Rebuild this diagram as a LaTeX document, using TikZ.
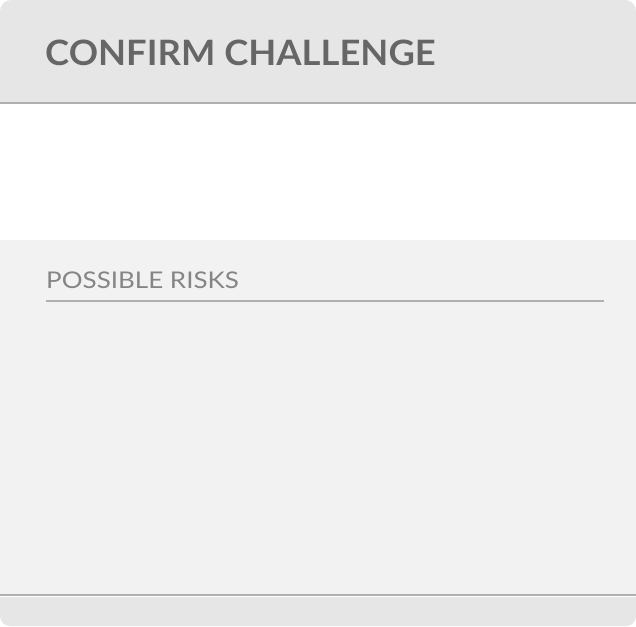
\documentclass[tikz,border=0pt]{standalone}
\usepackage{fontspec}
\setmainfont{Lato}
\definecolor{hdrgray}{HTML}{E6E6E6}
\definecolor{secgray}{HTML}{F2F2F2}
\definecolor{rulegray}{HTML}{B0B0B0}
\definecolor{titlegray}{HTML}{666666}
\definecolor{subgray}{HTML}{858585}
\tikzset{
  titletext/.style={anchor=base west, inner sep=0pt, font=\fontsize{35}{40}\selectfont\bfseries},
  subtext/.style={anchor=base west, inner sep=0pt, text=subgray, font=\fontsize{23}{27}\selectfont},
  rulerline/.style={draw=rulegray, line width=2pt}
}
\begin{document}
\begin{tikzpicture}[x=1pt,y=-1pt]
\useasboundingbox (0,0) rectangle (636,626);
\fill[white] (0,0) rectangle (636,626);
% header
\fill[hdrgray, rounded corners=11pt] (0,0) rectangle (636,40);
\fill[hdrgray] (0,20) rectangle (636,102);
\draw[rulerline] (0,102.5) -- (636,102.5);
% section
\fill[secgray] (0,240) rectangle (636,594);
\draw[rulerline] (0,595) -- (636,595);
% footer
\fill[hdrgray, rounded corners=10pt] (0,597) rectangle (636,626);
\fill[hdrgray] (0,597) rectangle (636,610);
% title
\node[titletext, text=white] (titleshadow) at (45,66) {\scalebox{1.04}[1]{CONFIRM CHALLENGE}};
\node[titletext, text=titlegray] (title) at (45,65) {\scalebox{1.04}[1]{CONFIRM CHALLENGE}};
% section title
\node[subtext] (risks) at (46,288.5) {\scalebox{1.13}[1]{POSSIBLE RISKS}};
\coordinate (rl) at (46,300.5);
\coordinate (rr) at (604,300.5);
\draw[rulerline] (rl) -- (rr);
\end{tikzpicture}
\end{document}
